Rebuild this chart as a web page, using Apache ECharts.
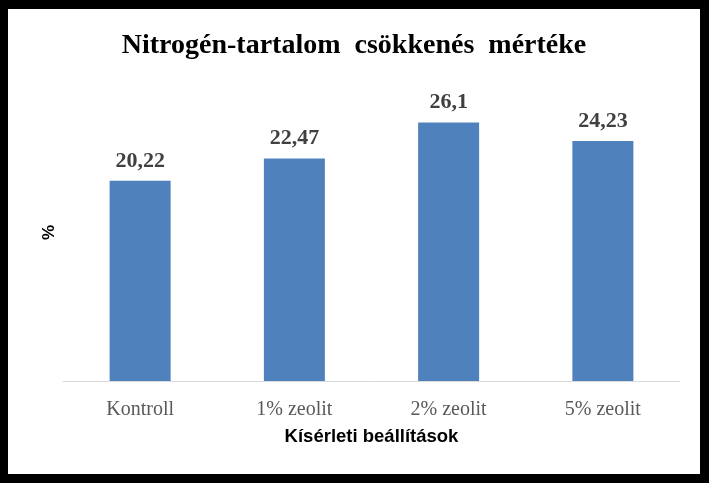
<!DOCTYPE html>
<html><head><meta charset="utf-8">
<script src="https://cdn.jsdelivr.net/npm/echarts@6/dist/echarts.min.js"></script>
<style>
html,body{margin:0;padding:0;background:#000;}
#frame{position:absolute;left:0;top:0;width:709px;height:483px;background:#000;}
#c{position:absolute;left:8px;top:9px;width:692px;height:465px;background:#fff;}
</style></head>
<body><div id="frame"></div><div id="c"></div>
<script>
const categories = ['Kontroll', '1% zeolit', '2% zeolit', '5% zeolit'];
const values = [20.22, 22.47, 26.1, 24.23];
const valueLabels = ['20,22', '22,47', '26,1', '24,23'];

const chart = echarts.init(document.getElementById('c'));
chart.setOption({
  animation: false,
  title: {
    text: 'Nitrogén-tartalom  csökkenés  mértéke',
    left: 'center', top: 18,
    textStyle: {fontFamily: 'Liberation Serif', fontWeight: 'bold', fontSize: 28, color: '#000'}
  },
  grid: {left: 55, right: 20, top: 75, bottom: 93},
  xAxis: {
    type: 'category', data: categories,
    name: 'Kísérleti beállítások', nameLocation: 'middle', nameGap: 46,
    nameTextStyle: {fontFamily: 'Liberation Sans', fontWeight: 'bold', fontSize: 18.5, color: '#000'},
    axisLine: {lineStyle: {color: '#d9d9d9', width: 1}},
    axisTick: {show: false},
    axisLabel: {fontFamily: 'Liberation Serif', fontSize: 20, color: '#595959', margin: 19}
  },
  yAxis: {
    type: 'value', min: 0, max: 30,
    name: '%', nameLocation: 'middle', nameGap: 5, nameRotate: 90,
    nameTextStyle: {fontFamily: 'Liberation Sans', fontWeight: 'bold', fontSize: 17, color: '#000'},
    axisLine: {show: false}, axisTick: {show: false}, axisLabel: {show: false},
    splitLine: {show: false}
  },
  series: [{
    type: 'bar', data: values, barWidth: 61,
    itemStyle: {color: '#4f81bd'},
    label: {
      show: true, position: 'top', distance: 9,
      formatter: p => valueLabels[p.dataIndex],
      fontFamily: 'Liberation Serif', fontWeight: 'bold', fontSize: 22, color: '#404040'
    }
  }]
});
</script></body></html>
